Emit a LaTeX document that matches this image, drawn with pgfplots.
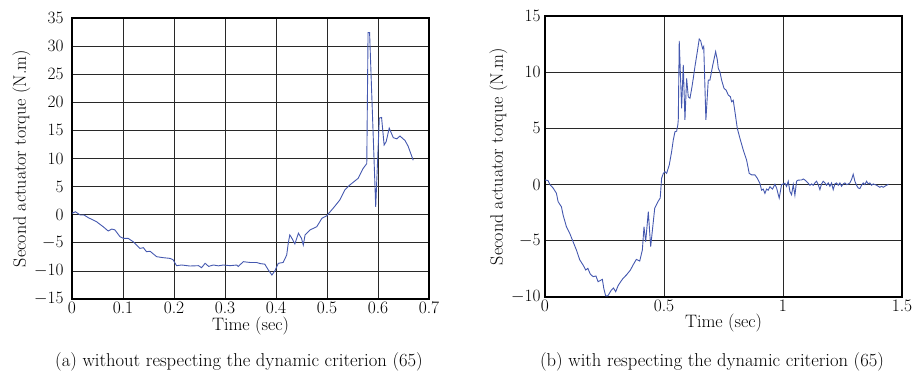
\documentclass[border=0pt]{standalone}
\usepackage{pgfplots}
\pgfplotsset{compat=1.18}
\definecolor{curve}{RGB}{68,88,175}
\definecolor{gridc}{RGB}{40,40,40}
\pgfplotstableread{
t v
0 0.24
0.0066 0.53
0.016 -0.05
0.0235 -0.05
0.032 -0.53
0.048 -1.24
0.061 -2.13
0.071 -2.9
0.078 -2.55
0.084 -2.7
0.094 -3.9
0.1006 -4.2
0.11 -4.2
0.12 -4.8
0.133 -6.0
0.14 -5.87
0.146 -6.58
0.153 -6.5
0.166 -7.47
0.179 -7.65
0.192 -7.77
0.198 -8.0
0.205 -9.07
0.215 -8.95
0.231 -9.13
0.248 -9.07
0.254 -9.43
0.261 -8.65
0.268 -9.2
0.277 -8.95
0.287 -9.1
0.297 -8.95
0.31 -9.07
0.323 -8.95
0.326 -9.2
0.336 -8.36
0.349 -8.5
0.362 -8.5
0.369 -8.7
0.378 -8.8
0.385 -9.84
0.392 -10.73
0.398 -9.96
0.4045 -8.65
0.414 -8.5
0.421 -7.17
0.424 -5.1
0.427 -3.6
0.430 -4.0
0.437 -5.2
0.444 -3.3
0.450 -4.2
0.4535 -5.4
0.457 -3.6
0.467 -2.7
0.48 -2.13
0.49 -0.64
0.499 -0.23
0.512 1.14
0.525 2.6
0.535 4.4
0.545 5.3
0.561 6.47
0.571 8.25
0.578 9.1
0.5805 32.4
0.5835 32.4
0.5955 1.4
0.6026 17.2
0.607 17.3
0.612 12.4
0.616 13.0
0.622 15.4
0.630 13.7
0.637 13.5
0.643 14.0
0.653 13.2
0.659 12.2
0.669 9.7
}\dataA
\pgfplotstableread{
t v
0 0.41
0.0126 0.36
0.022 -0.04
0.034 -0.3
0.048 -0.77
0.055 -1.52
0.069 -1.97
0.076 -2.7
0.09 -3.75
0.104 -4.34
0.118 -5.08
0.132 -5.82
0.146 -6.7
0.16 -7.15
0.171 -7.6
0.18 -7.45
0.19 -7.95
0.202 -8.19
0.214 -8.13
0.223 -8.64
0.241 -8.43
0.247 -9.23
0.255 -9.91
0.264 -9.9
0.279 -9.38
0.288 -9.2
0.297 -9.53
0.307 -9.0
0.316 -8.7
0.328 -8.34
0.342 -8.04
0.359 -7.6
0.37 -7.15
0.384 -6.65
0.398 -6.8
0.409 -5.82
0.416 -3.75
0.423 -5.08
0.434 -2.41
0.444 -5.52
0.461 -2.1
0.475 -1.5
0.484 -1.2
0.490 0.57
0.497 1.0
0.504 1.15
0.511 1.0
0.522 1.74
0.532 2.93
0.539 3.97
0.546 4.7
0.553 4.75
0.558 5.3
0.560 5.75
0.564 12.78
0.574 6.78
0.581 10.64
0.588 5.75
0.595 9.45
0.602 7.82
0.609 7.68
0.616 8.5
0.623 9.45
0.63 10.5
0.640 11.83
0.648 12.95
0.654 12.8
0.662 12.1
0.667 12.3
0.676 5.75
0.686 9.3
0.693 9.3
0.705 10.64
0.717 11.83
0.724 11.1
0.728 10.35
0.735 10.04
0.742 9.3
0.752 8.57
0.761 8.4
0.770 7.97
0.779 7.82
0.784 7.37
0.791 7.5
0.798 6.49
0.808 5.0
0.819 4.12
0.833 3.08
0.847 2.19
0.858 1.0
0.868 0.87
0.882 0.86
0.892 0.57
0.903 0.1
0.91 -0.5
0.917 -0.4
0.924 -0.78
0.931 -0.4
0.938 -0.5
0.945 -0.19
0.956 -0.4
0.966 0.03
0.973 -0.3
0.984 -1.2
0.994 0
1.008 0.12
1.015 -0.17
1.022 0.3
1.029 -0.6
1.036 -0.9
1.043 0
1.05 -0.95
1.057 0.3
1.064 0.4
1.078 0.41
1.085 0.5
1.092 0.41
1.106 0.12
1.113 -0.06
1.12 0.06
1.127 -0.06
1.134 0.15
1.141 0.3
1.148 0
1.155 -0.45
1.162 0.06
1.169 0.3
1.176 0.15
1.183 -0.06
1.19 0.15
1.197 -0.15
1.204 0.15
1.211 -0.45
1.218 0.06
1.225 0.15
1.232 -0.06
1.239 0.15
1.246 -0.15
1.253 0.06
1.26 0.15
1.267 0
1.274 0.05
1.281 0.15
1.288 0.45
1.295 0.92
1.302 0.3
1.309 -0.06
1.316 -0.3
1.323 -0.36
1.33 -0.06
1.337 0.15
1.344 0
1.351 0.3
1.358 0.06
1.365 0.15
1.372 -0.06
1.379 0.06
1.386 0
1.393 -0.05
1.400 -0.15
1.407 -0.24
1.414 -0.15
1.421 -0.24
1.428 -0.15
1.435 -0.06
1.443 0.03
}\dataB
\pgfplotsset{
  myaxis/.style={
    scale only axis, width=357pt, height=281pt,
    anchor=south west,
    axis line style={line width=1.1pt, black},
    grid=major,
    major grid style={line width=0.8pt, gridc},
    major tick length=0pt,
    tick label style={font=\fontsize{17.5}{18}\selectfont},
    label style={font=\fontsize{18}{18}\selectfont},
    xlabel={Time (sec)},
    ylabel={Second actuator torque (N.m)},
    xticklabel style={yshift=1pt},
    xlabel style={yshift=4pt},
    ylabel style={yshift=-3pt},
  },
  mycurve/.style={curve, line width=0.9pt, no marks},
}
\begin{document}
\begin{tikzpicture}
\useasboundingbox (0,0) rectangle (924pt,373pt);
\begin{axis}[myaxis, name=A, at={(72pt,74pt)},
  xmin=0, xmax=0.7, ymin=-15, ymax=35,
  xtick={0,0.1,...,0.7}, ytick={-15,-10,...,35},
  xticklabels={0,0.1,0.2,0.3,0.4,0.5,0.6,0.7},
  yticklabel style={xshift=-5pt}]
\addplot[mycurve] table[x=t,y=v] {\dataA};
\end{axis}
\begin{axis}[myaxis, name=B, at={(545pt,76pt)},
  xmin=0, xmax=1.5, ymin=-10, ymax=15,
  xtick={0,0.5,1,1.5}, ytick={-10,-5,0,5,10,15},
  xticklabels={0,0.5,1,1.5},
  yticklabel style={xshift=-1pt}]
\addplot[mycurve] table[x=t,y=v] {\dataB};
\end{axis}
\node[font=\fontsize{18.6}{20}\selectfont] at ([xshift=-11.5pt,yshift=-63pt]A.south) {(a) without respecting the dynamic criterion (65)};
\node[font=\fontsize{18.6}{20}\selectfont] at ([xshift=-11.5pt,yshift=-65pt]B.south) {(b) with respecting the dynamic criterion (65)};
\end{tikzpicture}
\end{document}
